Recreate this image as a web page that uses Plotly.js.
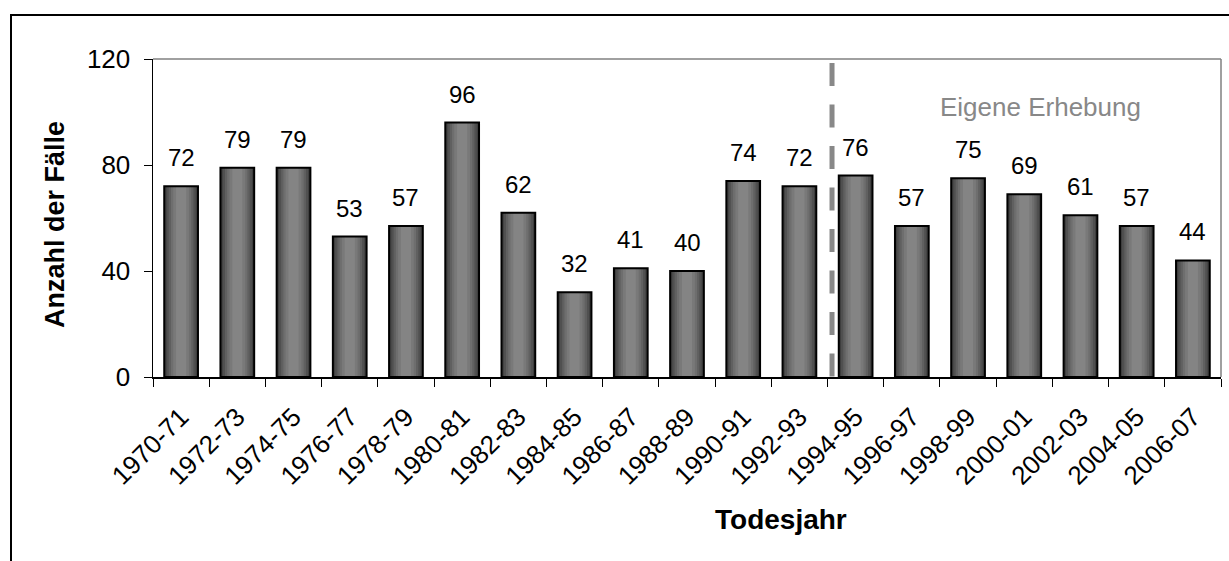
<!DOCTYPE html>
<html>
<head>
<meta charset="utf-8">
<script src="https://cdn.plot.ly/plotly-3.0.1.min.js"></script>
<style>
  html, body { margin: 0; padding: 0; background: #fff; overflow: hidden; }
  #frame { position: absolute; left: 10px; top: 14px; width: 3000px; height: 3000px;
           border-left: 2px solid #000; border-top: 2px solid #000; pointer-events: none; }
  #chart { position: absolute; left: 0; top: 0; width: 1229px; height: 561px; }
</style>
</head>
<body>
<div id="chart"></div>
<div id="frame"></div>
<script>
const categories = ["1970-71","1972-73","1974-75","1976-77","1978-79","1980-81","1982-83","1984-85","1986-87","1988-89","1990-91","1992-93","1994-95","1996-97","1998-99","2000-01","2002-03","2004-05","2006-07"];
const cases = [72,79,79,53,57,96,62,32,41,40,74,72,76,57,75,69,61,57,44];
const markerLabel = "Eigene Erhebung";
const xTitle = "Todesjahr";
const yTitle = "Anzahl der Fälle";
const yTicks = [0,40,80,120];

const FONT = '"Liberation Sans", Arial, Helvetica, sans-serif';
const W = 1229, H = 561, L = 153, R = 8, T = 59, B = 184;
const px2x = p => (p - L) / (W - L - R);
const px2y = p => (H - B - p) / (H - T - B);

// cylindrical shading imitation: stacked overlay bars of decreasing width
const layers = [
  {w: 0.60, c: "#3e3e3e"},
  {w: 0.52, c: "#505050"},
  {w: 0.44, c: "#606060"},
  {w: 0.36, c: "#6e6e6e"},
  {w: 0.28, c: "#797979"},
  {w: 0.18, c: "#848484"}
];
const traces = layers.map(l => ({
  type: "bar", x: categories, y: cases, width: l.w,
  marker: {color: l.c, line: {width: 0}},
  hoverinfo: "skip", showlegend: false
}));
traces.push({
  type: "bar", x: categories, y: cases, width: 0.6,
  marker: {color: "rgba(0,0,0,0)", line: {color: "#000", width: 2}},
  hovertemplate: "%{x}: %{y}<extra></extra>", showlegend: false
});

const annotations = categories.map((c, i) => ({
  x: c, y: cases[i], xref: "x", yref: "y", text: String(cases[i]),
  showarrow: false, yanchor: "bottom", yshift: 13,
  font: {family: FONT, size: 24, color: "#000"}
}));
annotations.push({
  x: px2x(1040), y: px2y(107), xref: "paper", yref: "paper", text: markerLabel,
  xanchor: "center", yanchor: "middle",
  showarrow: false, font: {family: FONT, size: 26, color: "#888888"}
});
annotations.push({
  x: px2x(781), y: px2y(519), xref: "paper", yref: "paper", text: "<b>" + xTitle + "</b>",
  xanchor: "center", yanchor: "middle",
  showarrow: false, font: {family: FONT, size: 28, color: "#000"}
});
annotations.push({
  x: px2x(55), y: px2y(225), xref: "paper", yref: "paper", text: "<b>" + yTitle + "</b>",
  xanchor: "center", yanchor: "middle", textangle: -90,
  showarrow: false, font: {family: FONT, size: 27, color: "#000"}
});

const layout = {
  width: W, height: H,
  margin: {l: L, r: R, t: T, b: B},
  paper_bgcolor: "rgba(0,0,0,0)", plot_bgcolor: "#fff",
  barmode: "overlay",
  font: {family: FONT, size: 26, color: "#000"},
  xaxis: {
    type: "category", range: [-0.5, 18.5],
    tickson: "boundaries", ticks: "outside", ticklen: 8, tickwidth: 1, tickcolor: "#000",
    tickangle: -45, tickfont: {family: FONT, size: 26, color: "#000"}, ticklabelstandoff: 13,
    showline: true, linecolor: "#000", linewidth: 1.5,
    showgrid: false, zeroline: false, automargin: false
  },
  yaxis: {
    range: [0, 120], tickvals: yTicks, ticks: "outside", ticklen: 8, tickwidth: 1, tickcolor: "#000",
    tickfont: {family: FONT, size: 26, color: "#000"}, ticklabelstandoff: 8,
    showline: true, linecolor: "#000", linewidth: 1.5,
    showgrid: false, zeroline: false, automargin: false
  },
  shapes: [
    {type: "line", xref: "paper", yref: "paper", x0: 0, x1: 1, y0: 1, y1: 1,
     line: {color: "#808080", width: 1.5}},
    {type: "line", xref: "paper", yref: "paper", x0: 1, x1: 1, y0: 0, y1: 1,
     line: {color: "#808080", width: 1.5}},
    {type: "line", xref: "x", yref: "y", x0: 11.58, x1: 11.58, y0: 118.5, y1: 0,
     line: {color: "#888888", width: 5, dash: "23px,18.5px"}}
  ],
  annotations: annotations
};

Plotly.newPlot("chart", traces, layout, {displayModeBar: false, staticPlot: true});
</script>
</body>
</html>
